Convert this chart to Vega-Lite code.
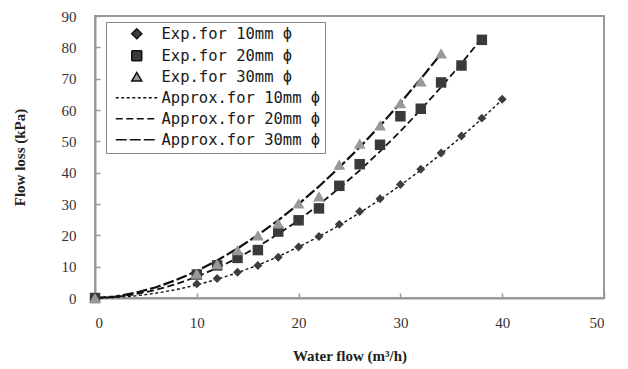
{
  "$schema": "https://vega.github.io/schema/vega-lite/v6.json",
  "width": 509,
  "height": 282,
  "autosize": {"type": "none"},
  "padding": {"left": 95, "top": 16, "right": 24, "bottom": 71},
  "background": "white",
  "config": {
    "view": {"stroke": "#999999", "strokeWidth": 2},
    "axis": {
      "labelFont": "Liberation Serif",
      "labelFontSize": 15,
      "labelColor": "#333333",
      "titleFont": "Liberation Serif",
      "titleFontSize": 15,
      "titleFontWeight": "bold",
      "titleColor": "#222222",
      "domainColor": "#999999",
      "domainWidth": 2,
      "tickColor": "#999999",
      "tickWidth": 1.5,
      "tickSize": -5,
      "grid": false
    }
  },
  "data": {
    "values": [
      {"series": "Exp.for 10mm ϕ", "kind": "exp", "x": 0, "y": 0},
      {"series": "Exp.for 10mm ϕ", "kind": "exp", "x": 10, "y": 4.5},
      {"series": "Exp.for 10mm ϕ", "kind": "exp", "x": 12, "y": 6.2},
      {"series": "Exp.for 10mm ϕ", "kind": "exp", "x": 14, "y": 8.2},
      {"series": "Exp.for 10mm ϕ", "kind": "exp", "x": 16, "y": 10.4},
      {"series": "Exp.for 10mm ϕ", "kind": "exp", "x": 18, "y": 13},
      {"series": "Exp.for 10mm ϕ", "kind": "exp", "x": 20, "y": 16.3},
      {"series": "Exp.for 10mm ϕ", "kind": "exp", "x": 22, "y": 19.6},
      {"series": "Exp.for 10mm ϕ", "kind": "exp", "x": 24, "y": 23.5},
      {"series": "Exp.for 10mm ϕ", "kind": "exp", "x": 26, "y": 27.6},
      {"series": "Exp.for 10mm ϕ", "kind": "exp", "x": 28, "y": 31.7},
      {"series": "Exp.for 10mm ϕ", "kind": "exp", "x": 30, "y": 36.2},
      {"series": "Exp.for 10mm ϕ", "kind": "exp", "x": 32, "y": 41.1},
      {"series": "Exp.for 10mm ϕ", "kind": "exp", "x": 34, "y": 46.3},
      {"series": "Exp.for 10mm ϕ", "kind": "exp", "x": 36, "y": 51.7},
      {"series": "Exp.for 10mm ϕ", "kind": "exp", "x": 38, "y": 57.4},
      {"series": "Exp.for 10mm ϕ", "kind": "exp", "x": 40, "y": 63.4},
      {"series": "Exp.for 20mm ϕ", "kind": "exp", "x": 0, "y": 0},
      {"series": "Exp.for 20mm ϕ", "kind": "exp", "x": 10, "y": 7.5},
      {"series": "Exp.for 20mm ϕ", "kind": "exp", "x": 12, "y": 10.4},
      {"series": "Exp.for 20mm ϕ", "kind": "exp", "x": 14, "y": 12.8},
      {"series": "Exp.for 20mm ϕ", "kind": "exp", "x": 16, "y": 15.3},
      {"series": "Exp.for 20mm ϕ", "kind": "exp", "x": 18, "y": 21.2},
      {"series": "Exp.for 20mm ϕ", "kind": "exp", "x": 20, "y": 24.8},
      {"series": "Exp.for 20mm ϕ", "kind": "exp", "x": 22, "y": 28.6},
      {"series": "Exp.for 20mm ϕ", "kind": "exp", "x": 24, "y": 35.8},
      {"series": "Exp.for 20mm ϕ", "kind": "exp", "x": 26, "y": 42.7},
      {"series": "Exp.for 20mm ϕ", "kind": "exp", "x": 28, "y": 48.9},
      {"series": "Exp.for 20mm ϕ", "kind": "exp", "x": 30, "y": 58},
      {"series": "Exp.for 20mm ϕ", "kind": "exp", "x": 32, "y": 60.4},
      {"series": "Exp.for 20mm ϕ", "kind": "exp", "x": 34, "y": 68.8},
      {"series": "Exp.for 20mm ϕ", "kind": "exp", "x": 36, "y": 74.2},
      {"series": "Exp.for 20mm ϕ", "kind": "exp", "x": 38, "y": 82.4},
      {"series": "Exp.for 30mm ϕ", "kind": "exp", "x": 0, "y": 0},
      {"series": "Exp.for 30mm ϕ", "kind": "exp", "x": 10, "y": 7.8},
      {"series": "Exp.for 30mm ϕ", "kind": "exp", "x": 12, "y": 10.8},
      {"series": "Exp.for 30mm ϕ", "kind": "exp", "x": 14, "y": 15.3},
      {"series": "Exp.for 30mm ϕ", "kind": "exp", "x": 16, "y": 20},
      {"series": "Exp.for 30mm ϕ", "kind": "exp", "x": 18, "y": 23.8},
      {"series": "Exp.for 30mm ϕ", "kind": "exp", "x": 20, "y": 30.2},
      {"series": "Exp.for 30mm ϕ", "kind": "exp", "x": 22, "y": 32.4},
      {"series": "Exp.for 30mm ϕ", "kind": "exp", "x": 24, "y": 42.6},
      {"series": "Exp.for 30mm ϕ", "kind": "exp", "x": 26, "y": 49.3},
      {"series": "Exp.for 30mm ϕ", "kind": "exp", "x": 28, "y": 55.1},
      {"series": "Exp.for 30mm ϕ", "kind": "exp", "x": 30, "y": 62.2},
      {"series": "Exp.for 30mm ϕ", "kind": "exp", "x": 32, "y": 69.1},
      {"series": "Exp.for 30mm ϕ", "kind": "exp", "x": 34, "y": 78.1},
      {"series": "Approx.for 10mm ϕ", "kind": "approx", "x": 0, "y": 0},
      {"series": "Approx.for 10mm ϕ", "kind": "approx", "x": 2, "y": 0.18},
      {"series": "Approx.for 10mm ϕ", "kind": "approx", "x": 4, "y": 0.69},
      {"series": "Approx.for 10mm ϕ", "kind": "approx", "x": 6, "y": 1.54},
      {"series": "Approx.for 10mm ϕ", "kind": "approx", "x": 8, "y": 2.69},
      {"series": "Approx.for 10mm ϕ", "kind": "approx", "x": 10, "y": 4.18},
      {"series": "Approx.for 10mm ϕ", "kind": "approx", "x": 12, "y": 5.97},
      {"series": "Approx.for 10mm ϕ", "kind": "approx", "x": 14, "y": 8.07},
      {"series": "Approx.for 10mm ϕ", "kind": "approx", "x": 16, "y": 10.49},
      {"series": "Approx.for 10mm ϕ", "kind": "approx", "x": 18, "y": 13.2},
      {"series": "Approx.for 10mm ϕ", "kind": "approx", "x": 20, "y": 16.3},
      {"series": "Approx.for 10mm ϕ", "kind": "approx", "x": 22, "y": 19.6},
      {"series": "Approx.for 10mm ϕ", "kind": "approx", "x": 24, "y": 23.2},
      {"series": "Approx.for 10mm ϕ", "kind": "approx", "x": 26, "y": 27.2},
      {"series": "Approx.for 10mm ϕ", "kind": "approx", "x": 28, "y": 31.4},
      {"series": "Approx.for 10mm ϕ", "kind": "approx", "x": 30, "y": 36.0},
      {"series": "Approx.for 10mm ϕ", "kind": "approx", "x": 32, "y": 40.8},
      {"series": "Approx.for 10mm ϕ", "kind": "approx", "x": 34, "y": 46.0},
      {"series": "Approx.for 10mm ϕ", "kind": "approx", "x": 36, "y": 51.5},
      {"series": "Approx.for 10mm ϕ", "kind": "approx", "x": 38, "y": 57.2},
      {"series": "Approx.for 10mm ϕ", "kind": "approx", "x": 40, "y": 63.3},
      {"series": "Approx.for 20mm ϕ", "kind": "approx", "x": 0, "y": 0},
      {"series": "Approx.for 20mm ϕ", "kind": "approx", "x": 2, "y": 0.33},
      {"series": "Approx.for 20mm ϕ", "kind": "approx", "x": 4, "y": 1.22},
      {"series": "Approx.for 20mm ϕ", "kind": "approx", "x": 6, "y": 2.61},
      {"series": "Approx.for 20mm ϕ", "kind": "approx", "x": 8, "y": 4.47},
      {"series": "Approx.for 20mm ϕ", "kind": "approx", "x": 10, "y": 6.79},
      {"series": "Approx.for 20mm ϕ", "kind": "approx", "x": 12, "y": 9.56},
      {"series": "Approx.for 20mm ϕ", "kind": "approx", "x": 14, "y": 12.77},
      {"series": "Approx.for 20mm ϕ", "kind": "approx", "x": 16, "y": 16.39},
      {"series": "Approx.for 20mm ϕ", "kind": "approx", "x": 18, "y": 20.44},
      {"series": "Approx.for 20mm ϕ", "kind": "approx", "x": 20, "y": 24.8},
      {"series": "Approx.for 20mm ϕ", "kind": "approx", "x": 22, "y": 29.8},
      {"series": "Approx.for 20mm ϕ", "kind": "approx", "x": 24, "y": 35.1},
      {"series": "Approx.for 20mm ϕ", "kind": "approx", "x": 26, "y": 40.7},
      {"series": "Approx.for 20mm ϕ", "kind": "approx", "x": 28, "y": 46.8},
      {"series": "Approx.for 20mm ϕ", "kind": "approx", "x": 30, "y": 53.2},
      {"series": "Approx.for 20mm ϕ", "kind": "approx", "x": 32, "y": 60.1},
      {"series": "Approx.for 20mm ϕ", "kind": "approx", "x": 34, "y": 67.3},
      {"series": "Approx.for 20mm ϕ", "kind": "approx", "x": 36, "y": 74.9},
      {"series": "Approx.for 20mm ϕ", "kind": "approx", "x": 38, "y": 82.9},
      {"series": "Approx.for 30mm ϕ", "kind": "approx", "x": 0, "y": 0},
      {"series": "Approx.for 30mm ϕ", "kind": "approx", "x": 2, "y": 0.48},
      {"series": "Approx.for 30mm ϕ", "kind": "approx", "x": 4, "y": 1.66},
      {"series": "Approx.for 30mm ϕ", "kind": "approx", "x": 6, "y": 3.44},
      {"series": "Approx.for 30mm ϕ", "kind": "approx", "x": 8, "y": 5.77},
      {"series": "Approx.for 30mm ϕ", "kind": "approx", "x": 10, "y": 8.62},
      {"series": "Approx.for 30mm ϕ", "kind": "approx", "x": 12, "y": 11.97},
      {"series": "Approx.for 30mm ϕ", "kind": "approx", "x": 14, "y": 15.8},
      {"series": "Approx.for 30mm ϕ", "kind": "approx", "x": 16, "y": 20.1},
      {"series": "Approx.for 30mm ϕ", "kind": "approx", "x": 18, "y": 24.8},
      {"series": "Approx.for 30mm ϕ", "kind": "approx", "x": 20, "y": 30.0},
      {"series": "Approx.for 30mm ϕ", "kind": "approx", "x": 22, "y": 35.6},
      {"series": "Approx.for 30mm ϕ", "kind": "approx", "x": 24, "y": 41.7},
      {"series": "Approx.for 30mm ϕ", "kind": "approx", "x": 26, "y": 48.1},
      {"series": "Approx.for 30mm ϕ", "kind": "approx", "x": 28, "y": 55.0},
      {"series": "Approx.for 30mm ϕ", "kind": "approx", "x": 30, "y": 62.3},
      {"series": "Approx.for 30mm ϕ", "kind": "approx", "x": 32, "y": 69.9},
      {"series": "Approx.for 30mm ϕ", "kind": "approx", "x": 34, "y": 78.0}
    ]
  },
  "encoding": {
    "x": {
      "field": "x", "type": "quantitative",
      "scale": {"domain": [0, 50], "nice": false},
      "axis": {"values": [0, 10, 20, 30, 40, 50], "title": "Water flow (m³/h)", "labelPadding": 22, "titlePadding": 18}
    },
    "y": {
      "field": "y", "type": "quantitative",
      "scale": {"domain": [0, 90], "nice": false},
      "axis": {"values": [0, 10, 20, 30, 40, 50, 60, 70, 80, 90], "title": "Flow loss (kPa)", "labelPadding": 24, "titlePadding": 34}
    }
  },
  "layer": [
    {
      "transform": [{"filter": "datum.kind == 'approx'"}],
      "mark": {"type": "line"},
      "encoding": {
        "strokeDash": {
          "field": "series", "type": "nominal",
          "scale": {
            "domain": ["Exp.for 10mm ϕ", "Exp.for 20mm ϕ", "Exp.for 30mm ϕ", "Approx.for 10mm ϕ", "Approx.for 20mm ϕ", "Approx.for 30mm ϕ"],
            "range": [[1, 0], [1, 0], [1, 0], [3, 2.5], [7, 3.5], [11, 3]]
          },
          "legend": {
            "title": null, "orient": "none", "legendX": 11, "legendY": 6,
            "labelFont": "DejaVu Sans Mono", "labelFontSize": 15.5, "labelColor": "#1a1a1a",
            "strokeColor": "#888888", "fillColor": "white", "padding": 4, "rowPadding": 4,
            "symbolOffset": 19, "labelOffset": 17,
            "encode": {
              "symbols": {"update": {
                "fill": {"signal": "indexof(datum.value,'Exp')==0 ? scale('color', datum.value) : 'transparent'"},
                "stroke": {"signal": "indexof(datum.value,'Exp')==0 ? 'transparent' : '#111111'"},
                "strokeWidth": {"signal": "datum.value == 'Approx.for 20mm ϕ' ? 2.2 : (indexof(datum.value,'Exp')==0 ? 0 : 1.4)"}
              }}
            }
          }
        },
        "strokeWidth": {
          "field": "series", "type": "nominal",
          "scale": {
            "domain": ["Approx.for 10mm ϕ", "Approx.for 20mm ϕ", "Approx.for 30mm ϕ"],
            "range": [1.4, 2.2, 1.4]
          },
          "legend": null
        },
        "detail": {"field": "series"},
        "color": {"value": "#111111"}
      }
    },
    {
      "transform": [{"filter": "datum.kind == 'exp'"}],
      "mark": {"type": "point", "filled": true, "opacity": 1},
      "encoding": {
        "shape": {
          "field": "series", "type": "nominal",
          "scale": {
            "domain": ["Exp.for 10mm ϕ", "Exp.for 20mm ϕ", "Exp.for 30mm ϕ", "Approx.for 10mm ϕ", "Approx.for 20mm ϕ", "Approx.for 30mm ϕ"],
            "range": ["diamond", "square", "triangle-up", "M-4.2,0H4.2", "M-4.2,0H4.2", "M-4.2,0H4.2"]
          },
          "legend": {
            "title": null, "orient": "none", "legendX": 11, "legendY": 6,
            "labelFont": "DejaVu Sans Mono", "labelFontSize": 15.5, "labelColor": "#1a1a1a",
            "strokeColor": "#888888", "fillColor": "white", "padding": 4, "rowPadding": 4,
            "symbolOffset": 19, "labelOffset": 17,
            "encode": {
              "symbols": {"update": {
                "fill": {"signal": "indexof(datum.value,'Exp')==0 ? scale('color', datum.value) : 'transparent'"},
                "stroke": {"signal": "indexof(datum.value,'Exp')==0 ? 'transparent' : '#111111'"},
                "strokeWidth": {"signal": "datum.value == 'Approx.for 20mm ϕ' ? 2.2 : (indexof(datum.value,'Exp')==0 ? 0 : 1.4)"}
              }}
            }
          }
        },
        "color": {
          "field": "series", "type": "nominal",
          "scale": {
            "domain": ["Exp.for 10mm ϕ", "Exp.for 20mm ϕ", "Exp.for 30mm ϕ", "Approx.for 10mm ϕ", "Approx.for 20mm ϕ", "Approx.for 30mm ϕ"],
            "range": ["#3d3d3d", "#3a3a3a", "#999999", "#111111", "#111111", "#111111"]
          },
          "legend": null
        },
        "size": {
          "field": "series", "type": "nominal",
          "scale": {
            "domain": ["Exp.for 10mm ϕ", "Exp.for 20mm ϕ", "Exp.for 30mm ϕ"],
            "range": [80, 140, 150]
          },
          "legend": null
        }
      }
    }
  ]
}
